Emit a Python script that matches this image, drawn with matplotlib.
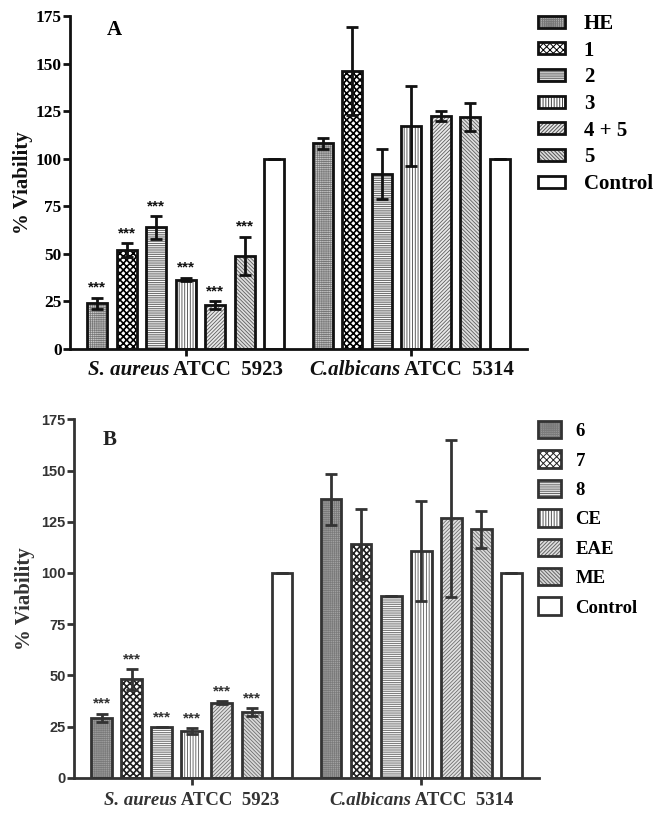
import matplotlib
matplotlib.use("Agg")
import matplotlib.pyplot as plt
import numpy as np
from matplotlib.patches import Patch
from matplotlib.offsetbox import TextArea, HPacker, AnnotationBbox

plt.rcParams["hatch.linewidth"] = 0.7

# datos
group_names = ["S. aureus", "C.albicans"]
group_strains = [" ATCC  5923", " ATCC  5314"]

labels_a = ["HE", "1", "2", "3", "4 + 5", "5", "Control"]
sa_a = [24, 52, 64, 36.5, 23, 49, 100]
sa_a_err = [3, 3.5, 6, 1, 2, 10, 0]
ca_a = [108, 146, 92, 117, 122.5, 122, 100]
ca_a_err = [3, 23, 13, 21, 2.5, 7.5, 0]
stars_a = [1, 1, 1, 1, 1, 1, 0]

labels_b = ["6", "7", "8", "CE", "EAE", "ME", "Control"]
sa_b = [29.3, 48, 24.8, 22.6, 36.6, 32, 100]
sa_b_err = [2, 5, 0, 1.5, 0.7, 2, 0]
ca_b = [136, 114, 88.7, 110.7, 126.6, 121.3, 100]
ca_b_err = [12.5, 17, 0, 24.5, 38.5, 9, 0]
stars_b = [1, 1, 1, 1, 1, 1, 0]

# estilos de relleno (trama, fondo, color de trama, grosor de trama)
hatches = ["++++++++", "xxxxx", "---------", "||||||", "/////////",
           "\\\\\\\\\\\\\\\\\\", ""]
hatch_lw = [0.5, 1.2, 0.6, 0.6, 0.55, 0.55, 0.6]
faces_a = ["#cccccc", "white", "white", "white", "#e8e8e8", "#dddddd", "white"]
hatch_col_a = ["#777777", "black", "#555555", "#444444", "#555555", "#555555", "black"]
faces_b = ["#a0a0a0", "white", "white", "white", "#e0e0e0", "#d8d8d8", "white"]
hatch_col_b = ["#7a7a7a", "#222222", "#666666", "#555555", "#666666", "#666666", "#333333"]

GROUP_GAP = 7.65
WIDTH = 0.68


def draw_panel(ax, sa, sa_err, ca, ca_err, stars, faces, hcols, line, serif_ticks,
               label_size, label_drop):
    x = np.arange(len(sa))
    for offset, vals, errs in [(0, sa, sa_err), (GROUP_GAP, ca, ca_err)]:
        xs = x + offset
        for xi, v, f, h, hc, lw in zip(xs, vals, faces, hatches, hcols, hatch_lw):
            with plt.rc_context({"hatch.linewidth": lw}):
                ax.bar(xi, v, WIDTH, color=f, edgecolor=hc, hatch=h, linewidth=0, zorder=2)
        ax.bar(xs, vals, WIDTH, fill=False, edgecolor=line, linewidth=2, zorder=3)
        ax.errorbar(xs, vals, yerr=errs, fmt="none", ecolor=line, elinewidth=2,
                    capsize=4.5, capthick=2, zorder=4)

    # asteriscos solo en S. aureus
    for xi, v, e, s in zip(x, sa, sa_err, stars):
        if s:
            ax.annotate("***", (xi, v + e), xytext=(0, 2), textcoords="offset points",
                        ha="center", va="bottom", fontsize=11, color=line,
                        family="Liberation Sans", weight="bold")

    ax.set_xlim(-0.92, GROUP_GAP + 6 + 0.92)
    ax.set_ylim(0, 175)
    ax.set_yticks(range(0, 176, 25))
    ax.set_xticks([3, GROUP_GAP + 3])
    ax.set_xticklabels(["", ""])

    # etiqueta de grupo: especie en cursiva + cepa
    for xc, name, strain in zip([3, GROUP_GAP + 3], group_names, group_strains):
        props = {"family": "Liberation Serif", "weight": "bold", "size": label_size, "color": line}
        box = HPacker(children=[TextArea(name, textprops={**props, "style": "italic"}),
                                TextArea(strain, textprops=props)],
                      pad=0, sep=0, align="baseline")
        ab = AnnotationBbox(box, (xc, 0), xycoords=("data", "axes fraction"),
                            xybox=(0, -label_drop), boxcoords="offset points",
                            box_alignment=(0.5, 1), frameon=False, annotation_clip=False)
        ax.add_artist(ab)

    ax.spines["top"].set_visible(False)
    ax.spines["right"].set_visible(False)
    for side in ["left", "bottom"]:
        ax.spines[side].set_linewidth(2)
        ax.spines[side].set_color(line)
    ax.tick_params(axis="both", length=5, width=2, color=line)
    for t in ax.get_yticklabels():
        t.set_fontweight("bold")
        if serif_ticks:
            t.set_fontfamily("Liberation Serif")
            t.set_fontsize(12.5)
        else:
            t.set_fontfamily("Liberation Sans")
            t.set_fontsize(10.5)
            t.set_color(line)
    ax.tick_params(axis="y", pad=1)
    ax.set_ylabel("% Viability", fontsize=15, family="Liberation Serif", weight="bold",
                  color=line)


def legend_handles(faces, hcols, line):
    handles = []
    for f, h, hc, lw in zip(faces, hatches, hcols, hatch_lw):
        with plt.rc_context({"hatch.linewidth": lw}):
            fill_patch = Patch(facecolor=f, edgecolor=hc, hatch=h, linewidth=0)
        edge_patch = Patch(fill=False, edgecolor=line, linewidth=2)
        handles.append((fill_patch, edge_patch))
    return handles


fig = plt.figure(figsize=(6.59, 8.13), dpi=100)

ax_a = fig.add_axes([70 / 659, 1 - 349 / 813, 457 / 659, 333 / 813])
draw_panel(ax_a, sa_a, sa_a_err, ca_a, ca_a_err, stars_a, faces_a, hatch_col_a, "#111111",
           True, 15, 8)
ax_a.yaxis.set_label_coords(-0.081, 0.5)
ax_a.text(0.081, 0.958, "A", transform=ax_a.transAxes, fontsize=15, family="Liberation Serif",
          weight="bold", va="center", ha="left")
fig.legend(legend_handles(faces_a, hatch_col_a, "#111111"), labels_a,
           loc="upper left", bbox_to_anchor=(538 / 659, 1 - 14 / 813), frameon=False,
           borderpad=0, borderaxespad=0, handlelength=1.3, handleheight=0.5,
           handletextpad=0.9, labelspacing=0.32,
           prop={"family": "Liberation Serif", "weight": "bold", "size": 15})

ax_b = fig.add_axes([74 / 659, 1 - 777.7 / 813, 465 / 659, 358.4 / 813])
draw_panel(ax_b, sa_b, sa_b_err, ca_b, ca_b_err, stars_b, faces_b, hatch_col_b, "#333333",
           False, 13.5, 10.5)
ax_b.yaxis.set_label_coords(-0.084, 0.5)
ax_b.text(0.062, 0.942, "B", transform=ax_b.transAxes, fontsize=15, family="Liberation Serif",
          weight="bold", va="center", ha="left", color="#222222")
fig.legend(legend_handles(faces_b, hatch_col_b, "#333333"), labels_b,
           loc="upper left", bbox_to_anchor=(538 / 659, 1 - 421 / 813), frameon=False,
           borderpad=0, borderaxespad=0, handlelength=1.2, handleheight=1.05,
           handletextpad=0.8, labelspacing=0.55,
           prop={"family": "Liberation Serif", "weight": "bold", "size": 13.5})

fig.savefig("out.png", dpi=100)
